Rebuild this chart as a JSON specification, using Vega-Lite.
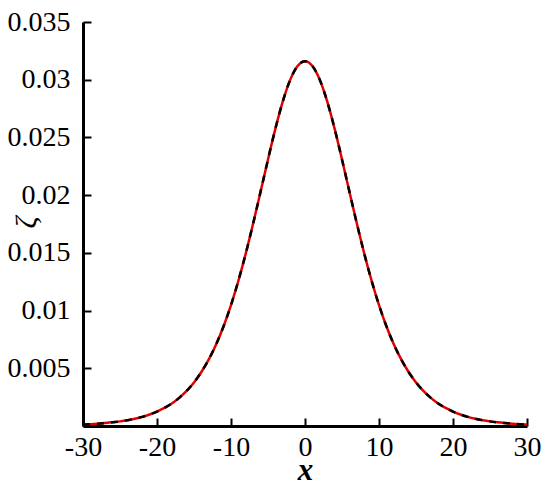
{
  "$schema": "https://vega.github.io/schema/vega-lite/v6.json",
  "width": 444,
  "height": 404,
  "autosize": "none",
  "padding": {"left": 83, "top": 22, "right": 23, "bottom": 62},
  "background": "white",
  "config": {
    "view": {"stroke": null},
    "font": "Liberation Serif",
    "axis": {
      "grid": false,
      "domainColor": "black",
      "domainWidth": 3,
      "tickColor": "black",
      "tickWidth": 2,
      "tickSize": -8,
      "labelFlush": false,
      "labelOverlap": false,
      "labelFont": "Liberation Serif",
      "labelFontSize": 28,
      "labelColor": "black",
      "titleFont": "Liberation Serif",
      "titleColor": "black"
    }
  },
  "data": {
    "values": [
      {"x": -30, "a": 0.000128, "b": 0.000128},
      {"x": -29, "a": 0.000160, "b": 0.000160},
      {"x": -28, "a": 0.000202, "b": 0.000202},
      {"x": -27, "a": 0.000254, "b": 0.000254},
      {"x": -26, "a": 0.000319, "b": 0.000319},
      {"x": -25, "a": 0.000401, "b": 0.000401},
      {"x": -24, "a": 0.000504, "b": 0.000504},
      {"x": -23, "a": 0.000633, "b": 0.000633},
      {"x": -22, "a": 0.000794, "b": 0.000794},
      {"x": -21, "a": 0.000996, "b": 0.000996},
      {"x": -20, "a": 0.001248, "b": 0.001248},
      {"x": -19, "a": 0.001563, "b": 0.001563},
      {"x": -18, "a": 0.001954, "b": 0.001954},
      {"x": -17, "a": 0.002439, "b": 0.002439},
      {"x": -16, "a": 0.003039, "b": 0.003039},
      {"x": -15, "a": 0.003776, "b": 0.003776},
      {"x": -14, "a": 0.004677, "b": 0.004677},
      {"x": -13, "a": 0.005770, "b": 0.005770},
      {"x": -12, "a": 0.007085, "b": 0.007085},
      {"x": -11, "a": 0.008647, "b": 0.008647},
      {"x": -10, "a": 0.010478, "b": 0.010478},
      {"x": -9, "a": 0.012586, "b": 0.012586},
      {"x": -8, "a": 0.014959, "b": 0.014959},
      {"x": -7, "a": 0.017558, "b": 0.017558},
      {"x": -6, "a": 0.020309, "b": 0.020309},
      {"x": -5, "a": 0.023094, "b": 0.023094},
      {"x": -4, "a": 0.025760, "b": 0.025760},
      {"x": -3, "a": 0.028121, "b": 0.028121},
      {"x": -2, "a": 0.029987, "b": 0.029987},
      {"x": -1, "a": 0.031186, "b": 0.031186},
      {"x": 0, "a": 0.031600, "b": 0.031600},
      {"x": 1, "a": 0.031186, "b": 0.031186},
      {"x": 2, "a": 0.029987, "b": 0.029987},
      {"x": 3, "a": 0.028121, "b": 0.028121},
      {"x": 4, "a": 0.025760, "b": 0.025760},
      {"x": 5, "a": 0.023094, "b": 0.023094},
      {"x": 6, "a": 0.020309, "b": 0.020309},
      {"x": 7, "a": 0.017558, "b": 0.017558},
      {"x": 8, "a": 0.014959, "b": 0.014959},
      {"x": 9, "a": 0.012586, "b": 0.012586},
      {"x": 10, "a": 0.010478, "b": 0.010478},
      {"x": 11, "a": 0.008647, "b": 0.008647},
      {"x": 12, "a": 0.007085, "b": 0.007085},
      {"x": 13, "a": 0.005770, "b": 0.005770},
      {"x": 14, "a": 0.004677, "b": 0.004677},
      {"x": 15, "a": 0.003776, "b": 0.003776},
      {"x": 16, "a": 0.003039, "b": 0.003039},
      {"x": 17, "a": 0.002439, "b": 0.002439},
      {"x": 18, "a": 0.001954, "b": 0.001954},
      {"x": 19, "a": 0.001563, "b": 0.001563},
      {"x": 20, "a": 0.001248, "b": 0.001248},
      {"x": 21, "a": 0.000996, "b": 0.000996},
      {"x": 22, "a": 0.000794, "b": 0.000794},
      {"x": 23, "a": 0.000633, "b": 0.000633},
      {"x": 24, "a": 0.000504, "b": 0.000504},
      {"x": 25, "a": 0.000401, "b": 0.000401},
      {"x": 26, "a": 0.000319, "b": 0.000319},
      {"x": 27, "a": 0.000254, "b": 0.000254},
      {"x": 28, "a": 0.000202, "b": 0.000202},
      {"x": 29, "a": 0.000160, "b": 0.000160},
      {"x": 30, "a": 0.000128, "b": 0.000128}
    ]
  },
  "encoding": {
    "x": {
      "field": "x",
      "type": "quantitative",
      "scale": {"domain": [-30, 30], "nice": false, "zero": false},
      "axis": {
        "values": [-30, -20, -10, 0, 10, 20, 30],
        "labelExpr": "toString(datum.value)",
        "labelPadding": 15,
        "title": "x",
        "titleFontSize": 31,
        "titleFontStyle": "italic",
        "titleFontWeight": "bold",
        "titleX": 222,
        "titleY": 53,
        "titleAlign": "center",
        "titleBaseline": "alphabetic"
      }
    }
  },
  "layer": [
    {
      "mark": {"type": "line", "color": "#e00000", "strokeWidth": 2.5, "interpolate": "monotone", "clip": true},
      "encoding": {
        "y": {
          "field": "a",
          "type": "quantitative",
          "scale": {"domain": [0, 0.035], "nice": false},
          "axis": {
            "values": [0, 0.005, 0.01, 0.015, 0.02, 0.025, 0.03, 0.035],
            "labelExpr": "datum.value == 0 ? '' : format(datum.value, '.3~f')",
            "labelPadding": 21,
            "title": "ζ",
            "titleFontSize": 30,
            "titleFontStyle": "italic",
            "titleFontWeight": "normal",
            "titleX": -57,
            "titleY": 200,
            "titleAlign": "center",
            "titleBaseline": "middle",
            "titleAngle": -90
          }
        }
      }
    },
    {
      "mark": {"type": "line", "color": "black", "strokeWidth": 2.5, "strokeDash": [7, 7], "interpolate": "monotone", "clip": true},
      "encoding": {
        "y": {"field": "b", "type": "quantitative"}
      }
    }
  ]
}
